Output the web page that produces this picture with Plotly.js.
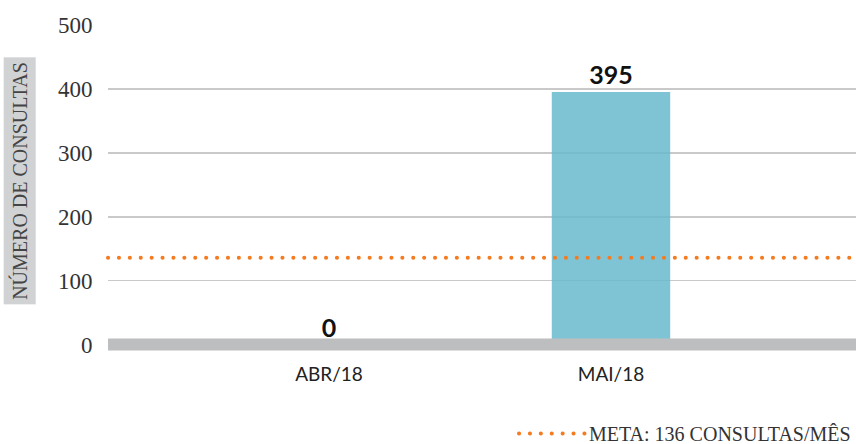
<!DOCTYPE html>
<html>
<head>
<meta charset="utf-8">
<script src="https://cdn.plot.ly/plotly-3.0.1.min.js"></script>
<style>html,body{margin:0;padding:0;background:#fff;}#chart{width:856px;height:444px;}</style>
</head>
<body>
<div id="chart"></div>
<script>
var categories = ['ABR/18', 'MAI/18'];
var consultas = [0, 395];
var meta = 136;
var metaLabel = 'META: 136 CONSULTAS/MÊS';
var yTickVals = [0, 100, 200, 300, 400, 500];
var yTitle = 'NÚMERO DE CONSULTAS';

var serif = 'Liberation Serif, DejaVu Serif, serif';
var sans = 'Lato, Open Sans, sans-serif';
var orange = '#f47b20';

var traces = [{
  type: 'bar',
  x: categories,
  y: consultas,
  width: 0.42,
  marker: {color: 'rgb(105,186,205)', opacity: 0.85},
  text: consultas.map(String),
  textposition: 'outside',
  textfont: {family: sans, size: 25, color: '#111', weight: 'bold'},
  cliponaxis: false,
  showlegend: false,
  hoverinfo: 'x+y'
}];

var layout = {
  width: 856, height: 444,
  margin: {l: 108, r: 0, t: 25, b: 93},
  paper_bgcolor: '#fff', plot_bgcolor: '#fff',
  xaxis: {
    type: 'category',
    range: [-0.784, 1.869],
    showgrid: false, zeroline: false, showline: false,
    ticks: 'outside', ticklen: 6, tickcolor: 'rgba(0,0,0,0)',
    tickfont: {family: sans, size: 19, color: '#222'}
  },
  yaxis: {
    range: [-10, 500],
    tickvals: yTickVals,
    showgrid: true, gridcolor: '#c9c9c9', gridwidth: 1.5,
    zeroline: false, showline: false,
    ticks: 'outside', ticklen: 10, tickcolor: 'rgba(0,0,0,0)',
    tickfont: {family: serif, size: 23, color: '#333'}
  },
  shapes: [
    {type: 'line', xref: 'paper', x0: 0, x1: 1, yref: 'y', y0: 0, y1: 0,
     line: {color: '#bdbec0', width: 12}, layer: 'above'},
    {type: 'line', xref: 'paper', x0: 0, x1: 1, yref: 'y', y0: meta, y1: meta,
     line: {color: orange, width: 4, dash: '4px,6.8px'}, layer: 'above',
     showlegend: true, name: metaLabel}
  ],
  showlegend: true,
  legend: {
    x: 1, xanchor: 'right', y: -0.282, yanchor: 'bottom',
    itemwidth: 67,
    font: {family: serif, size: 20, color: '#333'},
    bgcolor: 'rgba(0,0,0,0)'
  },
  annotations: [{
    xref: 'paper', yref: 'paper', x: -0.1183, y: 0.5205,
    xanchor: 'center', yanchor: 'middle',
    text: yTitle, textangle: -90, showarrow: false,
    font: {family: serif, size: 20, color: '#444'},
    bgcolor: '#d1d2d4', borderpad: 4
  }]
};

function isOrange(p) {
  var s = (p.style.stroke || p.getAttribute('stroke') || '').replace(/\s/g, '');
  return s === 'rgb(244,123,32)' || s.toLowerCase() === orange;
}

Plotly.newPlot('chart', traces, layout, {displayModeBar: false, staticPlot: true}).then(function (gd) {
  gd.querySelectorAll('.shapelayer path').forEach(function (p) {
    if (isOrange(p)) {
      p.style.strokeLinecap = 'round';
      p.style.strokeDasharray = '0.1px,10.8px';
    }
  });
  gd.querySelectorAll('.legend path').forEach(function (p) {
    if (isOrange(p)) {
      p.setAttribute('d', 'M7,0h66');
      p.style.strokeLinecap = 'round';
      p.style.strokeDasharray = '0.1px,10.8px';
    }
  });
  var lg = gd.querySelector('g.legend');
  if (lg) {
    var t = lg.getAttribute('transform') || '';
    var m = t.match(/translate\(\s*([-\d.]+)[ ,]+([-\d.]+)\s*\)/);
    if (m) {
      lg.setAttribute('transform', 'translate(' + m[1] + ',' + (parseFloat(m[2]) + 10) + ')');
    }
  }
});
</script>
</body>
</html>
